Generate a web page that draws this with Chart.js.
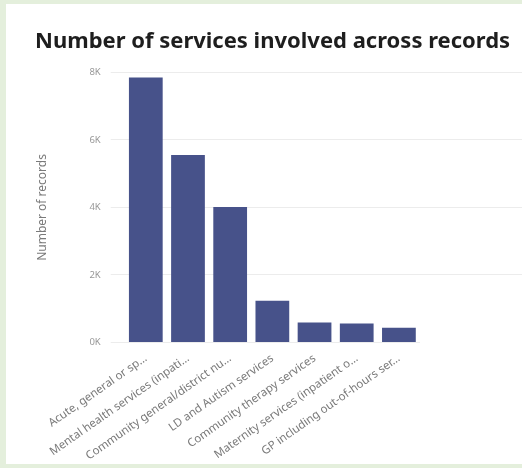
<!DOCTYPE html>
<html>
<head>
<meta charset="utf-8">
<script src="https://cdn.jsdelivr.net/npm/chart.js@4"></script>
<style>
    html, body { margin: 0; padding: 0; background: #e4efdc; }
    #panel { position: absolute; left: 6px; top: 4px; width: 516px; height: 460px; background: #fff; }
</style>
</head>
<body>
<div id="panel"><canvas id="services-chart" width="516" height="460"></canvas></div>
<script>
const serviceLabels = [
    'Acute, general or sp…',
    'Mental health services (inpati…',
    'Community general/district nu…',
    'LD and Autism services',
    'Community therapy services',
    'Maternity services (inpatient o…',
    'GP including out-of-hours ser…'
];
const recordCounts = [7850, 5550, 4010, 1240, 590, 560, 440];
const yTicks = [0, 2000, 4000, 6000, 8000];

// grid lines in the reference run on past the last bar to the panel edge
const extendGrid = {
    id: 'extendGrid',
    afterDraw(chart) {
        const ctx = chart.ctx;
        const y = chart.scales.y;
        ctx.save();
        ctx.strokeStyle = '#ececec';
        ctx.lineWidth = 1;
        yTicks.forEach(function(t) {
            if (t === 0) return;
            // same pixel snapping Chart.js uses for its own grid lines
            const py = Math.round(y.getPixelForValue(t) - 0.5) + 0.5;
            ctx.beginPath();
            ctx.moveTo(chart.chartArea.right, py);
            ctx.lineTo(chart.width, py);
            ctx.stroke();
        });
        ctx.restore();
    }
};

const ctx = document.getElementById('services-chart').getContext('2d');
new Chart(ctx, {
    type: 'bar',
    data: {
        labels: serviceLabels,
        datasets: [{
            label: 'Number of records',
            data: recordCounts,
            backgroundColor: '#47528a',
            borderWidth: 0,
            categoryPercentage: 0.8,
            barPercentage: 1.0
        }]
    },
    options: {
        responsive: false,
        animation: false,
        layout: { padding: { left: 29, right: 0, top: 0, bottom: 0 } },
        plugins: {
            legend: { display: false },
            tooltip: { enabled: false },
            title: {
                display: true,
                align: 'start',
                text: 'Number of services involved across records',
                color: '#1e1e1e',
                font: { family: 'Noto Sans', size: 22, weight: 'bold' },
                padding: { top: 25, bottom: 17 }
            }
        },
        scales: {
            x: {
                grid: { display: false },
                border: { display: false },
                ticks: {
                    color: '#7a7a7a',
                    font: { family: 'Noto Sans', size: 11.5 },
                    minRotation: 35,
                    maxRotation: 35,
                    padding: 1,
                    autoSkip: false
                }
            },
            y: {
                min: 0,
                max: 8000,
                afterBuildTicks: function(axis) {
                    axis.ticks = yTicks.map(v => ({ value: v }));
                },
                grid: { color: '#ececec', tickLength: 14, tickColor: '#ececec' },
                border: { display: false },
                ticks: {
                    color: '#999',
                    font: { family: 'Noto Sans', size: 9.5 },
                    padding: 10,
                    callback: v => (v / 1000) + 'K'
                },
                title: {
                    display: true,
                    text: 'Number of records',
                    color: '#7a7a7a',
                    font: { family: 'Noto Sans', size: 12 },
                    padding: { top: 0, bottom: 30 }
                }
            },
            // empty space to the right of the bars, as in the reference
            spacer: {
                type: 'linear',
                position: 'right',
                grid: { display: false },
                border: { display: false },
                ticks: { display: false },
                afterFit: function(axis) { axis.width = 102; }
            }
        }
    },
    plugins: [extendGrid]
});
</script>
</body>
</html>
